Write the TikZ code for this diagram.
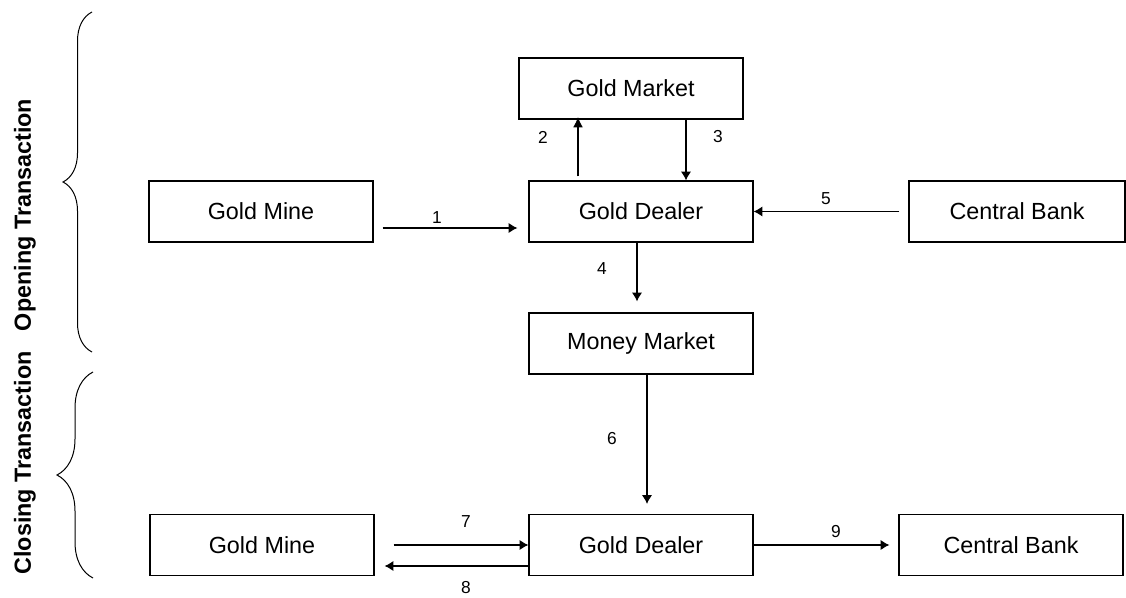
\documentclass[tikz,border=0pt]{standalone}
\usepackage{fontspec}
\setmainfont{Liberation Sans}
\usetikzlibrary{arrows.meta,calc,decorations.pathreplacing}

\begin{document}
\begin{tikzpicture}[x=0.75pt,y=-0.75pt,
        box/.style={draw,line width=0.9pt,minimum width=168pt,minimum height=45.75pt,inner sep=0pt,font=\fontsize{17.5}{21}\selectfont},
        num/.style={inner sep=0pt,font=\fontsize{13}{15}\selectfont},
        arr/.style={-{Latex[length=6.5pt,width=7.5pt]},line width=0.8pt},
        side/.style={rotate=90,inner sep=0pt,font=\bfseries\fontsize{17.5}{21}\selectfont}]
            \useasboundingbox (0,0) rectangle (1126,598);
            \node[box] (mktA) at (631,88.5) {Gold Market};
            \node[box] (mineA) at (261,211.5) {Gold Mine};
            \node[box] (dealerA) at (641,211.5) {Gold Dealer};
            \node[box,minimum width=162pt] (bankA) at (1017,211.5) {Central Bank};
            \node[box] (moneyA) at (641,343.5) {Money Market};
            \node[box] (mineB) at (262,545) {Gold Mine};
            \node[box] (dealerB) at (641,545) {Gold Dealer};
            \node[box] (bankB) at (1011,545) {Central Bank};
            \draw[arr] ($(mineA.east)+(9,16.5)$)--($(dealerA.west)+(-11,16.5)$);
            \draw[-{Latex[length=8pt,width=7.5pt]},line width=2.2pt] ($(dealerA.north)+(-63,-4)$)--($(mktA.south)+(-53,-3)$);
            \draw[arr] ($(mktA.south)+(55,0)$)--($(dealerA.north)+(45,0)$);
            \draw[arr] ($(dealerA.south)+(-4,0)$)--($(moneyA.north)+(-4,-11)$);
            \draw[arr] ($(bankA.west)+(-9,0)$)--(dealerA.east);
            \draw[arr] ($(moneyA.south)+(6,0)$)--($(dealerB.north)+(6,-10)$);
            \draw[arr] ($(mineB.east)+(19,0)$)--(dealerB.west);
            \draw[arr] ($(dealerB.west)+(0,21)$)--($(mineB.east)+(10,21)$);
            \draw[arr] (dealerB.east)--($(bankB.west)+(-9,0)$);
            \node[num] (n1) at (437,218) {1};
            \node[num] (n2) at (543,137) {2};
            \node[num] (n3) at (718,137) {3};
            \node[num] (n4) at (602,269) {4};
            \node[num] (n5) at (826,199) {5};
            \node[num] (n6) at (612,439) {6};
            \node[num] (n7) at (466,522) {7};
            \node[num] (n8) at (466,588) {8};
            \node[num] (n9) at (836,532) {9};
            \draw[decorate,decoration={brace,amplitude=21.75pt},line width=0.75pt] (92,352)--(92,12);
            \draw[decorate,decoration={brace,amplitude=27pt},line width=0.75pt] (93,578)--(93,372);
            \node[side] (open) at (25,215) {Opening Transaction};
            \node[side] (close) at (25,463) {Closing Transaction};
        \end{tikzpicture}
\end{document}
